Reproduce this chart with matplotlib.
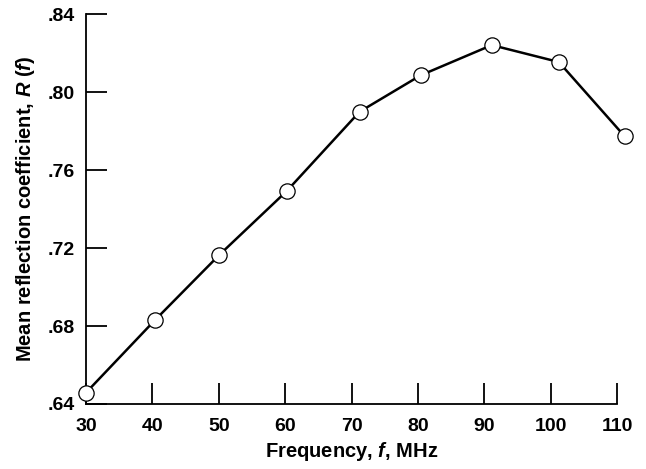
import matplotlib
matplotlib.use("Agg")
import matplotlib.pyplot as plt

freq = [30, 40.4, 50.1, 60.2, 71.2, 80.4, 91.1, 101.2, 111.1]
refl = [0.6458, 0.6831, 0.7166, 0.7492, 0.790, 0.8087, 0.8242, 0.8155, 0.7774]
xticks = [30, 40, 50, 60, 70, 80, 90, 100, 110]
yticks = [0.64, 0.68, 0.72, 0.76, 0.80, 0.84]
ytick_labels = [".64", ".68", ".72", ".76", ".80", ".84"]

plt.rcParams['font.family'] = ['Liberation Sans', 'DejaVu Sans']
plt.rcParams['font.weight'] = 'bold'
plt.rcParams['mathtext.fontset'] = 'custom'
plt.rcParams['mathtext.it'] = 'Liberation Sans:bold:italic'
plt.rcParams['mathtext.rm'] = 'Liberation Sans:bold'

fig = plt.figure(figsize=(6.46, 4.69), dpi=100)
ax = fig.add_axes([0.1331, 0.1386, 0.8225, 0.8309])

ax.plot(freq, refl, color='black', linewidth=1.8, marker='o', markersize=11,
        markerfacecolor='white', markeredgecolor='black', markeredgewidth=0.9,
        clip_on=False, zorder=3)

ax.set_xlim(30, 110)
ax.set_ylim(0.64, 0.84)
ax.set_xticks(xticks)
ax.set_xticklabels([str(t) for t in xticks])
ax.set_yticks(yticks)
ax.set_yticklabels(ytick_labels)

for s in ['top', 'right']:
    ax.spines[s].set_visible(False)
for s in ['left', 'bottom']:
    ax.spines[s].set_linewidth(1.3)

ax.tick_params(axis='both', direction='in', length=15, width=1.3, labelsize=14)
ax.tick_params(axis='x', pad=10)
ax.tick_params(axis='y', pad=8)

ax.set_xlabel(r'Frequency, $f$, MHz', fontsize=14.5, fontweight='bold', labelpad=4)
ax.set_ylabel(r'Mean reflection coefficient, $R$ ($f$)', fontsize=14.5, fontweight='bold', labelpad=8)

fig.savefig('out.png', dpi=100)
